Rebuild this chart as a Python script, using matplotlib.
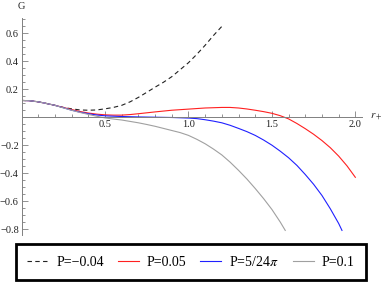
import matplotlib
matplotlib.use("Agg")
import matplotlib.pyplot as plt
from matplotlib.ticker import MultipleLocator

plt.rcParams['font.family'] = ['Liberation Serif', 'DejaVu Serif']
plt.rcParams['mathtext.fontset'] = 'stix'

# values
r_neg = [0.0, 0.05, 0.1, 0.15, 0.2, 0.25, 0.3, 0.35, 0.4, 0.45, 0.5, 0.55, 0.6, 0.65,
         0.7, 0.75, 0.8, 0.85, 0.9, 0.95, 1.0, 1.05, 1.1, 1.15, 1.2, 1.21]
g_neg = [0.12, 0.118, 0.11, 0.098, 0.085, 0.07, 0.06, 0.052, 0.05, 0.052, 0.06, 0.07,
         0.085, 0.11, 0.142, 0.178, 0.215, 0.25, 0.29, 0.34, 0.39, 0.45, 0.515, 0.585,
         0.65, 0.66]

r_005 = [0.0, 0.05, 0.1, 0.15, 0.2, 0.25, 0.3, 0.35, 0.4, 0.45, 0.5, 0.55, 0.6, 0.65,
         0.7, 0.8, 0.9, 1.0, 1.1, 1.2, 1.25, 1.3, 1.35, 1.4, 1.45, 1.5, 1.55, 1.6,
         1.65, 1.7, 1.75, 1.8, 1.85, 1.9, 1.95, 2.0]
g_005 = [0.12, 0.118, 0.11, 0.098, 0.085, 0.07, 0.055, 0.041, 0.03, 0.022, 0.017, 0.015,
         0.015, 0.019, 0.025, 0.038, 0.05, 0.058, 0.066, 0.07, 0.07, 0.066, 0.059, 0.05,
         0.04, 0.028, 0.011, -0.012, -0.045, -0.082, -0.122, -0.167, -0.218, -0.278,
         -0.348, -0.43]

r_crit = [0.0, 0.05, 0.1, 0.15, 0.2, 0.25, 0.3, 0.35, 0.4, 0.45, 0.5, 0.6, 0.7, 0.8,
          0.9, 1.0, 1.05, 1.1, 1.15, 1.2, 1.25, 1.3, 1.35, 1.4, 1.45, 1.5, 1.55, 1.6,
          1.65, 1.7, 1.75, 1.8, 1.85, 1.9, 1.92]
g_crit = [0.12, 0.118, 0.11, 0.098, 0.085, 0.068, 0.05, 0.036, 0.025, 0.016, 0.01, 0.005,
          0.002, 0.0, -0.002, -0.006, -0.01, -0.018, -0.028, -0.04, -0.058, -0.08,
          -0.103, -0.13, -0.163, -0.2, -0.243, -0.29, -0.345, -0.41, -0.48, -0.56,
          -0.655, -0.76, -0.81]

r_01 = [0.0, 0.05, 0.1, 0.15, 0.2, 0.25, 0.3, 0.35, 0.4, 0.45, 0.5, 0.55, 0.6, 0.65,
        0.7, 0.75, 0.8, 0.85, 0.9, 0.95, 1.0, 1.05, 1.1, 1.15, 1.2, 1.25, 1.3, 1.35,
        1.4, 1.45, 1.5, 1.55, 1.58]
g_01 = [0.12, 0.118, 0.11, 0.098, 0.085, 0.067, 0.05, 0.034, 0.02, 0.007, -0.005, -0.013,
        -0.02, -0.03, -0.04, -0.052, -0.065, -0.08, -0.095, -0.11, -0.13, -0.158,
        -0.19, -0.228, -0.27, -0.322, -0.38, -0.442, -0.51, -0.582, -0.66, -0.75, -0.81]

x_ticks = [0.5, 1.0, 1.5, 2.0]
y_ticks = [-0.8, -0.6, -0.4, -0.2, 0.2, 0.4, 0.6]
labels = ['P=\u22120.04', 'P=0.05', r'P=5/24$\pi$', 'P=0.1']

fig = plt.figure(figsize=(3.82, 2.83), dpi=100)
ax = fig.add_axes([21.6 / 382, 1 - 234.6 / 283, (362 - 21.6) / 382, (234.6 - 18) / 283])

ax.plot(r_neg, g_neg, color='#222222', lw=0.8, ls=(0, (4, 3)), label=labels[0])
ax.plot(r_005, g_005, color='#ff2020', lw=0.8, label=labels[1])
ax.plot(r_crit, g_crit, color='#2020ff', lw=0.8, label=labels[2])
ax.plot(r_01, g_01, color='#a0a0a0', lw=0.8, label=labels[3])

ax.set_xlim(0, 2.04)
ax.set_ylim(-0.84, 0.71)

for side in ['top', 'right']:
    ax.spines[side].set_visible(False)
ax.spines['left'].set_position(('data', 0))
ax.spines['bottom'].set_position(('data', 0))
for side in ['left', 'bottom']:
    ax.spines[side].set_color('#808080')
    ax.spines[side].set_linewidth(0.7)

ax.set_xticks(x_ticks)
ax.set_yticks(y_ticks)
ax.xaxis.set_minor_locator(MultipleLocator(0.1))
ax.yaxis.set_minor_locator(MultipleLocator(0.05))
ax.tick_params(which='both', direction='in', color='#808080', width=0.6,
               labelsize=7.5, labelcolor='#222222', pad=2)
ax.tick_params(which='major', length=4)
ax.tick_params(which='minor', length=2)

ax.text(0, 0.76, 'G', fontsize=7.5, ha='center', va='bottom', color='#222222')
ax.text(2.09, 0.0, r'$r_+$', fontsize=8, ha='left', va='center', color='#222222')

leg = fig.legend(loc='lower left', bbox_to_anchor=(16 / 382, 3 / 283, 350 / 382, 0.1),
                 mode='expand', ncol=4, borderaxespad=0, fontsize=10,
                 handlelength=1.5, handletextpad=0.6, columnspacing=1.0,
                 borderpad=0.8, fancybox=False, framealpha=1)
leg.get_frame().set_edgecolor('black')
leg.get_frame().set_linewidth(2.0)

fig.savefig('out.png', dpi=100)
